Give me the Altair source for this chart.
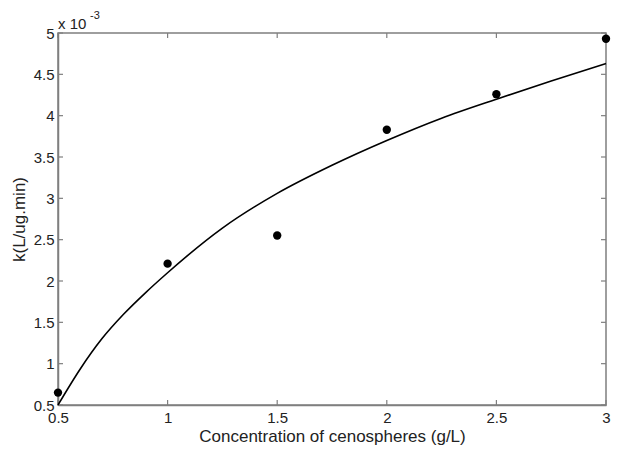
import altair as alt
import pandas as pd

# measured data points (k in units of 1e-3 L/ug.min)
conc = [0.5, 1.0, 1.5, 2.0, 2.5, 3.0]
k_vals = [0.65, 2.21, 2.55, 3.83, 4.26, 4.93]

# fitted curve
fit_x = [0.5, 0.6, 0.7, 0.8, 0.9, 1.0, 1.25, 1.5, 1.75, 2.0, 2.25, 2.5, 2.75, 3.0]
fit_y = [0.5, 0.93, 1.30, 1.60, 1.86, 2.10, 2.64, 3.06, 3.40, 3.70, 3.97, 4.20, 4.42, 4.63]

x_ticks = [0.5, 1.0, 1.5, 2.0, 2.5, 3.0]
y_ticks = [0.5, 1.0, 1.5, 2.0, 2.5, 3.0, 3.5, 4.0, 4.5, 5.0]

W, H = 548, 372
GRAY = "#7f7f7f"
FONT = "Liberation Sans"

pts = pd.DataFrame({"c": conc, "k": k_vals})
fit = pd.DataFrame({"c": fit_x, "k": fit_y})
xt = pd.DataFrame({"v": x_ticks})
yt = pd.DataFrame({"v": y_ticks})

xscale = alt.Scale(domain=[0.5, 3.0], nice=False, zero=False)
yscale = alt.Scale(domain=[0.5, 5.0], nice=False, zero=False)

xaxis = alt.Axis(values=x_ticks, format="~g", ticks=False, grid=False, labelFlush=False,
                 domainColor=GRAY, domainWidth=1.5, labelFontSize=15, labelColor="#222",
                 labelFont=FONT, labelPadding=5, title="Concentration of cenospheres (g/L)",
                 titleFont=FONT, titleFontSize=17, titleFontWeight="normal", titleColor="#222",
                 titlePadding=3)
yaxis = alt.Axis(values=y_ticks, format="~g", ticks=False, grid=False, labelFlush=False,
                 domainColor=GRAY, domainWidth=1.5, labelFontSize=15, labelColor="#222",
                 labelFont=FONT, labelPadding=4, title="k(L/ug.min)",
                 titleFont=FONT, titleFontSize=17, titleFontWeight="normal", titleColor="#222",
                 titlePadding=5)

line = alt.Chart(fit).mark_line(color="black", strokeWidth=1.6, interpolate="monotone").encode(
    x=alt.X("c:Q", scale=xscale, axis=xaxis),
    y=alt.Y("k:Q", scale=yscale, axis=yaxis),
)

dots = alt.Chart(pts).mark_circle(color="black", opacity=1, size=70, clip=False).encode(
    x=alt.X("c:Q", scale=xscale),
    y=alt.Y("k:Q", scale=yscale),
)

tick_style = dict(color=GRAY, strokeWidth=1.2)
xt_bot = alt.Chart(xt).mark_rule(**tick_style).encode(
    x=alt.X("v:Q", scale=xscale), y=alt.value(H), y2=alt.value(H - 5))
xt_top = alt.Chart(xt).mark_rule(**tick_style).encode(
    x=alt.X("v:Q", scale=xscale), y=alt.value(0), y2=alt.value(5))
yt_left = alt.Chart(yt).mark_rule(**tick_style).encode(
    y=alt.Y("v:Q", scale=yscale), x=alt.value(0), x2=alt.value(5))
yt_right = alt.Chart(yt).mark_rule(**tick_style).encode(
    y=alt.Y("v:Q", scale=yscale), x=alt.value(W), x2=alt.value(W - 5))

exp_base = alt.Chart(pd.DataFrame({"t": ["x 10"]})).mark_text(
    align="left", baseline="alphabetic", font=FONT, fontSize=15, color="#222"
).encode(text="t:N", x=alt.value(0), y=alt.value(-4))
exp_sup = alt.Chart(pd.DataFrame({"t": ["-3"]})).mark_text(
    align="left", baseline="alphabetic", font=FONT, fontSize=11, color="#222"
).encode(text="t:N", x=alt.value(32), y=alt.value(-14))

chart = alt.layer(xt_bot, xt_top, yt_left, yt_right, line, dots, exp_base, exp_sup).properties(
    width=W, height=H,
    autosize=alt.AutoSizeParams(type="none"),
    padding={"left": 50, "top": 25, "right": 5, "bottom": 40},
    background="white",
).configure_view(stroke=GRAY, strokeWidth=1.5)

chart.save("out.html", embed_options={"renderer": "svg", "actions": False})
